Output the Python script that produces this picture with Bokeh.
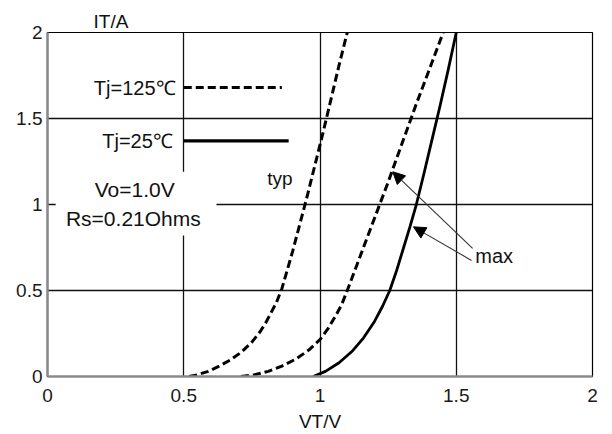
from bokeh.plotting import figure
from bokeh.models import Range1d, FixedTicker, Label, Arrow, NormalHead
from bokeh.embed import file_html
from bokeh.resources import INLINE

# ---- data ----
ticks = [0, 0.5, 1, 1.5, 2]
tick_labels = ["0", "0.5", "1", "1.5", "2"]

# Tj=125C, typ (dashed)
typ125_v = [0.52, 0.55, 0.59, 0.63, 0.67, 0.71, 0.75, 0.78, 0.80, 0.82, 0.84, 0.86,
            0.88, 0.90, 0.92, 0.95, 0.98, 1.01, 1.04, 1.07, 1.10]
typ125_i = [0.0, 0.01, 0.03, 0.06, 0.095, 0.14, 0.20, 0.26, 0.31, 0.37, 0.43, 0.51,
            0.62, 0.73, 0.85, 1.03, 1.22, 1.41, 1.61, 1.81, 2.0]
# Tj=125C, max (dashed)
max125_v = [0.71, 0.76, 0.81, 0.86, 0.91, 0.96, 1.0, 1.03, 1.06, 1.08, 1.10,
            1.15, 1.20, 1.25, 1.30, 1.35, 1.40, 1.452]
max125_i = [0.0, 0.01, 0.03, 0.06, 0.10, 0.155, 0.215, 0.28, 0.36, 0.42, 0.50,
            0.71, 0.92, 1.13, 1.35, 1.57, 1.78, 2.0]
# Tj=25C, max (solid)
max25_v = [0.975, 1.02, 1.07, 1.12, 1.16, 1.20, 1.23, 1.256, 1.28, 1.305, 1.33, 1.352,
           1.38, 1.41, 1.44, 1.47, 1.50]
max25_i = [0.0, 0.03, 0.08, 0.15, 0.225, 0.32, 0.41, 0.50, 0.61, 0.74, 0.87, 0.99,
           1.17, 1.37, 1.57, 1.78, 2.0]

# "max" arrows: tail (x0, y0) -> tip (x1, y1)
arrow_x0 = [1.56, 1.556]
arrow_y0 = [0.745, 0.675]
arrow_x1 = [1.267, 1.343]
arrow_y1 = [1.19, 0.87]

legend_labels = ["Tj=125℃", "Tj=25℃"]
note_lines = ["Vo=1.0V", "Rs=0.21Ohms"]
x_title = "VT/V"
y_title = "IT/A"

FONT = "Liberation Sans"

p = figure(width=612, height=434, output_backend="svg", toolbar_location=None,
           x_range=Range1d(0, 2), y_range=Range1d(0, 2),
           min_border_left=47, min_border_right=20, min_border_top=32, min_border_bottom=57)
p.background_fill_color = "white"
p.border_fill_color = "white"
p.outline_line_color = "black"
p.outline_line_width = 1.2

p.title.text = y_title
p.title.align = "left"
p.title.offset = 46
p.title.text_font = FONT
p.title.text_font_size = "19px"
p.title.text_font_style = "normal"
p.title.text_color = "#111111"
p.title.standoff = 2

for ax in (p.xaxis[0], p.yaxis[0]):
    ax.ticker = FixedTicker(ticks=ticks)
    ax.major_label_overrides = {t: s for t, s in zip(ticks, tick_labels)}
    ax.major_tick_in = 0
    ax.major_tick_out = 0
    ax.minor_tick_in = 0
    ax.minor_tick_out = 0
    ax.axis_line_color = "#8a8a8a"
    ax.axis_line_width = 2.5
    ax.major_label_text_font = FONT
    ax.major_label_text_font_size = "19px"
    ax.major_label_text_color = "#1a1a1a"
p.xaxis[0].major_label_standoff = 12
p.yaxis[0].major_label_standoff = 5
p.xaxis[0].axis_label = x_title
p.xaxis[0].axis_label_text_font = FONT
p.xaxis[0].axis_label_text_font_size = "19px"
p.xaxis[0].axis_label_text_font_style = "normal"
p.xaxis[0].axis_label_text_color = "#111111"
p.xaxis[0].axis_label_standoff = 6

for g in (p.xgrid[0], p.ygrid[0]):
    g.ticker = FixedTicker(ticks=ticks)
    g.grid_line_color = "#111111"
    g.grid_line_width = 1.3
    g.grid_line_alpha = 1.0

# white patch behind the note text (interrupts grid lines)
p.quad(left=0.03, right=0.62, bottom=0.82, top=1.19,
       fill_color="white", line_color=None)

# curves
p.line(typ125_v, typ125_i, line_color="black", line_width=3, line_dash="8 4", line_join="round")
p.line(max125_v, max125_i, line_color="black", line_width=3, line_dash="8 4", line_join="round")
p.line(max25_v, max25_i, line_color="black", line_width=2.8, line_join="round")

# legend samples
p.line([0.5, 0.86], [1.68, 1.68], line_color="black", line_width=3, line_dash="8 4")
p.line([0.5, 0.885], [1.37, 1.37], line_color="black", line_width=3.2)

def lab(x, y, text, size, align="left", baseline="middle", color="#111111"):
    p.add_layout(Label(x=x, y=y, text=text, text_font=FONT, text_font_size=size,
                       text_align=align, text_baseline=baseline, text_color=color))

lab(0.47, 1.68, legend_labels[0], "20px", align="right")
lab(0.46, 1.37, legend_labels[1], "20px", align="right")
lab(0.32, 1.09, note_lines[0], "21px", align="center")
lab(0.315, 0.92, note_lines[1], "21px", align="center")
lab(0.806, 1.15, "typ", "19px")
lab(1.57, 0.70, "max", "20px")

for x0, y0, x1, y1 in zip(arrow_x0, arrow_y0, arrow_x1, arrow_y1):
    p.add_layout(Arrow(x_start=x0, y_start=y0, x_end=x1, y_end=y1,
                       line_color="#333333", line_width=1.1,
                       end=NormalHead(size=12, fill_color="black", line_color="black", line_width=1)))

open("out.html", "w").write(file_html(p, INLINE))
